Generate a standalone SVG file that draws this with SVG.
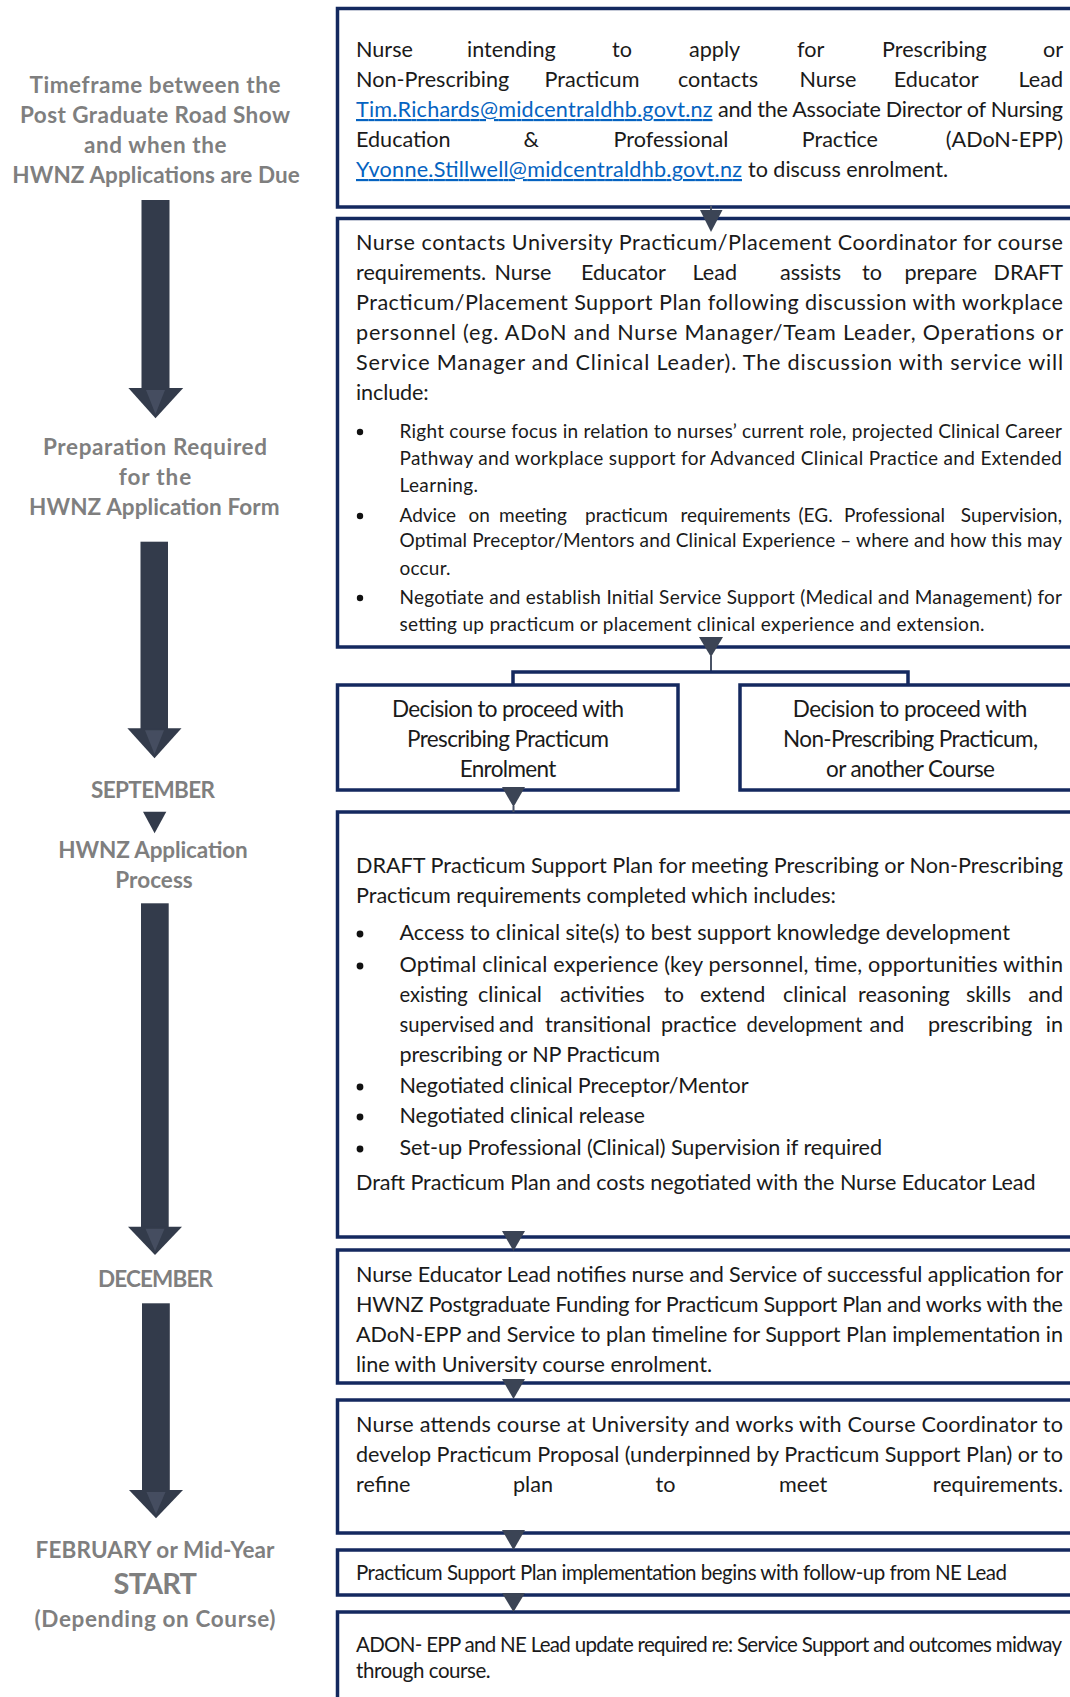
<svg xmlns="http://www.w3.org/2000/svg" width="1070" height="1697" viewBox="0 0 1070 1697">
<style>
.box{fill:#fff;stroke:#14295f;stroke-width:3.5}
.t{font-family:Lato,"Noto Sans",sans-serif;font-size:21.6px;fill:#1a1a1a}
.s{font-size:19px}
.m{font-size:20.5px}
.n{font-size:20.2px}
.c{text-anchor:middle;font-size:22.5px}
.e{text-anchor:end}
.link{fill:#0563c1;text-decoration:underline}
.lbl{font-family:Lato,"Noto Sans",sans-serif;font-weight:700;font-size:22.5px;fill:#7f7f7f;text-anchor:middle}
.tri{fill:#3b4455}
.arr{fill:#333b4b}
.hl{fill:#4d566a;opacity:0.7}
.ln{stroke:#14295f;stroke-width:3.5;fill:none}
.stem{stroke:#4a5366;stroke-width:2;fill:none}
.dot{fill:#111}
</style>
<defs>
<clipPath id="c4"><rect x="340" y="1252" width="730" height="122"/></clipPath>
</defs>
<rect width="1070" height="1697" fill="#fff"/>

<g id="timeline">
<g id="lbl1">
<text class="lbl" x="155" y="93.3" textLength="251">Timeframe between the</text>
<text class="lbl" x="155" y="123.3" textLength="270">Post Graduate Road Show</text>
<text class="lbl" x="155.3" y="153.3" textLength="142.6">and when the</text>
<text class="lbl" x="156" y="183.3" textLength="287.5">HWNZ Applications are Due</text>
</g>
<g id="lbl2">
<text class="lbl" x="155" y="455" textLength="224">Preparation Required</text>
<text class="lbl" x="155" y="485" textLength="72.3">for the</text>
<text class="lbl" x="154.3" y="515" textLength="250.6">HWNZ Application Form</text>
</g>
<g id="lbl3"><text class="lbl" x="153" y="798.3" textLength="124">SEPTEMBER</text></g>
<g id="lbl4">
<text class="lbl" x="153" y="858.3" textLength="189.5">HWNZ Application</text>
<text class="lbl" x="154" y="888.3" textLength="77.5">Process</text>
</g>
<g id="lbl5"><text class="lbl" x="155.5" y="1286.7" textLength="115">DECEMBER</text></g>
<g id="lbl6">
<text class="lbl" x="155" y="1558.3" textLength="239">FEBRUARY or Mid-Year</text>
<text class="lbl" x="155.3" y="1594" textLength="83.4" style="font-size:29px">START</text>
<text class="lbl" x="155" y="1626.7" textLength="241">(Depending on Course)</text>
</g>
</g>

<g id="timeline-arrows">
<rect class="arr" x="141.5" y="200" width="28" height="190"/>
<polygon class="arr" points="128.4,388 183.2,388 155.5,418.3"/>
<polygon class="hl" points="146,390 165,390 155.5,414"/>
<rect class="arr" x="140.5" y="541.7" width="27.5" height="188"/>
<polygon class="arr" points="127.4,728.3 181.5,728.3 154.5,758.3"/>
<polygon class="hl" points="145,730.3 164,730.3 154.5,754"/>
<polygon class="arr" points="143,811.7 166.3,811.7 154.6,833.3"/>
<rect class="arr" x="141" y="903.3" width="27.7" height="325"/>
<polygon class="arr" points="128,1226.7 182,1226.7 155,1255"/>
<polygon class="hl" points="145.5,1228.7 164.5,1228.7 155,1251"/>
<rect class="arr" x="142" y="1303.3" width="27.8" height="188"/>
<polygon class="arr" points="129,1490 183,1490 156,1518.3"/>
<polygon class="hl" points="146.5,1492 165.5,1492 156,1514"/>
</g>

<g id="n1">
<rect class="box" x="337.5" y="8.5" width="760" height="198.5"/>
<text class="t" y="57"><tspan x="356">Nurse</tspan><tspan x="467">intending</tspan><tspan x="612">to</tspan><tspan x="689">apply</tspan><tspan x="797">for</tspan><tspan x="882">Prescribing</tspan></text>
<text class="t e" x="1063" y="57">or</text>
<text class="t" y="87"><tspan x="356">Non-Prescribing</tspan><tspan x="544.5">Practicum</tspan><tspan x="678">contacts</tspan><tspan x="799.5">Nurse</tspan><tspan x="893.7">Educator</tspan></text>
<text class="t e" x="1063" y="87">Lead</text>
<text class="t link" x="356" y="117" textLength="356.5">Tim.Richards@midcentraldhb.govt.nz</text>
<text class="t" x="718" y="117" textLength="345">and the Associate Director of Nursing</text>
<text class="t" y="147"><tspan x="356">Education</tspan><tspan x="523.6">&amp;</tspan><tspan x="613.5">Professional</tspan><tspan x="801.7">Practice</tspan></text>
<text class="t e" x="1063" y="147">(ADoN-EPP)</text>
<text class="t link" x="356" y="177" textLength="386">Yvonne.Stillwell@midcentraldhb.govt.nz</text>
<text class="t" x="748" y="177" textLength="200">to discuss enrolment.</text>
</g>

<g id="n2">
<rect class="box" x="337.5" y="218.5" width="760" height="428.5"/>
<text class="t" x="356" y="250" textLength="707">Nurse contacts University Practicum/Placement Coordinator for course</text>
<text class="t" y="280"><tspan x="356">requirements.</tspan><tspan x="494.5">Nurse</tspan><tspan x="581">Educator</tspan><tspan x="692.5">Lead</tspan><tspan x="780">assists</tspan><tspan x="862">to</tspan><tspan x="904.5">prepare</tspan></text>
<text class="t e" x="1063" y="280">DRAFT</text>
<text class="t" x="356" y="310" textLength="707">Practicum/Placement Support Plan following discussion with workplace</text>
<text class="t" x="356" y="340" textLength="707">personnel (eg. ADoN and Nurse Manager/Team Leader, Operations or</text>
<text class="t" x="356" y="370" textLength="707">Service Manager and Clinical Leader). The discussion with service will</text>
<text class="t" x="356" y="400" textLength="72.7">include:</text>
<circle class="dot" cx="360" cy="432" r="3.2"/>
<circle class="dot" cx="360" cy="516" r="3.2"/>
<circle class="dot" cx="360" cy="598" r="3.2"/>
<text class="t s" x="399.5" y="438" textLength="662.5">Right course focus in relation to nurses’ current role, projected Clinical Career</text>
<text class="t s" x="399.5" y="465" textLength="662.5">Pathway and workplace support for Advanced Clinical Practice and Extended</text>
<text class="t s" x="399.5" y="492" textLength="78.5">Learning.</text>
<text class="t s" y="522"><tspan x="399.5">Advice</tspan><tspan x="468.5">on</tspan><tspan x="499">meeting</tspan><tspan x="585">practicum</tspan><tspan x="680.5">requirements</tspan><tspan x="798.5">(EG.</tspan><tspan x="844">Professional</tspan></text>
<text class="t s e" x="1062" y="522">Supervision,</text>
<text class="t s" x="399.5" y="547" textLength="662.5">Optimal Preceptor/Mentors and Clinical Experience – where and how this may</text>
<text class="t s" x="399.5" y="575" textLength="51">occur.</text>
<text class="t s" x="399.5" y="604" textLength="662.5">Negotiate and establish Initial Service Support (Medical and Management) for</text>
<text class="t s" x="399.5" y="631" textLength="585">setting up practicum or placement clinical experience and extension.</text>
</g>

<g id="d1">
<rect class="box" x="337.5" y="685" width="340.5" height="105"/>
<text class="t c" x="508" y="716.7" textLength="232">Decision to proceed with</text>
<text class="t c" x="508" y="746.7" textLength="202">Prescribing Practicum</text>
<text class="t c" x="508" y="776.7" textLength="96.6">Enrolment</text>
</g>

<g id="d2">
<rect class="box" x="740" y="685" width="360" height="105"/>
<text class="t c" x="910" y="716.7" textLength="234.6">Decision to proceed with</text>
<text class="t c" x="910.5" y="746.7" textLength="255">Non-Prescribing Practicum,</text>
<text class="t c" x="910.5" y="776.7" textLength="169">or another Course</text>
</g>

<g id="n3">
<rect class="box" x="337.5" y="812" width="760" height="425"/>
<text class="t" x="356" y="873" textLength="707">DRAFT Practicum Support Plan for meeting Prescribing or Non-Prescribing</text>
<text class="t" x="356" y="903" textLength="480">Practicum requirements completed which includes:</text>
<circle class="dot" cx="360" cy="934" r="3.4"/>
<circle class="dot" cx="360" cy="966" r="3.4"/>
<circle class="dot" cx="360" cy="1087" r="3.4"/>
<circle class="dot" cx="360" cy="1117" r="3.4"/>
<circle class="dot" cx="360" cy="1149" r="3.4"/>
<text class="t" x="399.5" y="940" textLength="610.5">Access to clinical site(s) to best support knowledge development</text>
<text class="t" x="399.5" y="972" textLength="663.5">Optimal clinical experience (key personnel, time, opportunities within</text>
<text class="t" y="1002"><tspan x="399.5" class="n">existing</tspan><tspan x="478">clinical</tspan><tspan x="560">activities</tspan><tspan x="664">to</tspan><tspan x="700">extend</tspan><tspan x="783">clinical</tspan><tspan x="858">reasoning</tspan><tspan x="966">skills</tspan></text>
<text class="t e" x="1063" y="1002">and</text>
<text class="t" y="1032"><tspan x="399.5" class="n">supervised</tspan><tspan x="499">and</tspan><tspan x="545">transitional</tspan><tspan x="661">practice</tspan><tspan x="746.5" class="n">development</tspan><tspan x="869.5">and</tspan><tspan x="928">prescribing</tspan></text>
<text class="t e" x="1063" y="1032">in</text>
<text class="t" x="399.5" y="1062" textLength="260.5">prescribing or NP Practicum</text>
<text class="t" x="399.5" y="1093" textLength="349">Negotiated clinical Preceptor/Mentor</text>
<text class="t" x="399.5" y="1123" textLength="245.5">Negotiated clinical release</text>
<text class="t" x="399.5" y="1155" textLength="482.5">Set-up Professional (Clinical) Supervision if required</text>
<text class="t" x="356" y="1190" textLength="679.5">Draft Practicum Plan and costs negotiated with the Nurse Educator Lead</text>
</g>

<g id="n4">
<rect class="box" x="337.5" y="1250" width="760" height="133"/>
<g clip-path="url(#c4)">
<text class="t" x="356" y="1282" textLength="707">Nurse Educator Lead notifies nurse and Service of successful application for</text>
<text class="t" x="356" y="1312" textLength="707">HWNZ Postgraduate Funding for Practicum Support Plan and works with the</text>
<text class="t" x="356" y="1342" textLength="707">ADoN-EPP and Service to plan timeline for Support Plan implementation in</text>
<text class="t" x="356" y="1372" textLength="356">line with University course enrolment.</text>
</g>
</g>

<g id="n5">
<rect class="box" x="337.5" y="1400" width="760" height="133"/>
<text class="t" x="356" y="1432" textLength="707">Nurse attends course at University and works with Course Coordinator to</text>
<text class="t" x="356" y="1462" textLength="707">develop Practicum Proposal (underpinned by Practicum Support Plan) or to</text>
<text class="t" y="1492"><tspan x="356">refine</tspan><tspan x="513">plan</tspan><tspan x="655.6">to</tspan><tspan x="779">meet</tspan></text>
<text class="t e" x="1063" y="1492">requirements.</text>
</g>

<g id="n6">
<rect class="box" x="337.5" y="1550" width="760" height="45"/>
<text class="t m" x="356" y="1580" textLength="651">Practicum Support Plan implementation begins with follow-up from NE Lead</text>
</g>

<g id="n7">
<rect class="box" x="337.5" y="1612" width="760" height="110"/>
<text class="t m" x="356" y="1652" textLength="706">ADON- EPP and NE Lead update required re: Service Support and outcomes midway</text>
<text class="t m" x="356" y="1678" textLength="134.7">through course.</text>
</g>

<g id="connectors">
<line class="stem" x1="711" y1="206" x2="711" y2="212"/>
<polygon class="tri" points="700,210 722.5,210 711,232"/>
<polygon class="tri" points="699,637 723,637 711,657"/>
<line class="stem" x1="711" y1="656" x2="711" y2="672"/>
<polyline class="ln" points="513,685 513,672 908,672 908,685"/>
<polygon class="tri" points="502,787 525,787 513.5,807"/>
<line class="stem" x1="513.5" y1="806" x2="513.5" y2="812"/>
<polygon class="tri" points="502,1231 525,1231 513.5,1251"/>
<polygon class="tri" points="502,1379 525,1379 513.5,1399"/>
<polygon class="tri" points="502,1530 525,1530 513.5,1550"/>
<polygon class="tri" points="502,1593 525,1593 513.5,1612"/>
</g>
</svg>
